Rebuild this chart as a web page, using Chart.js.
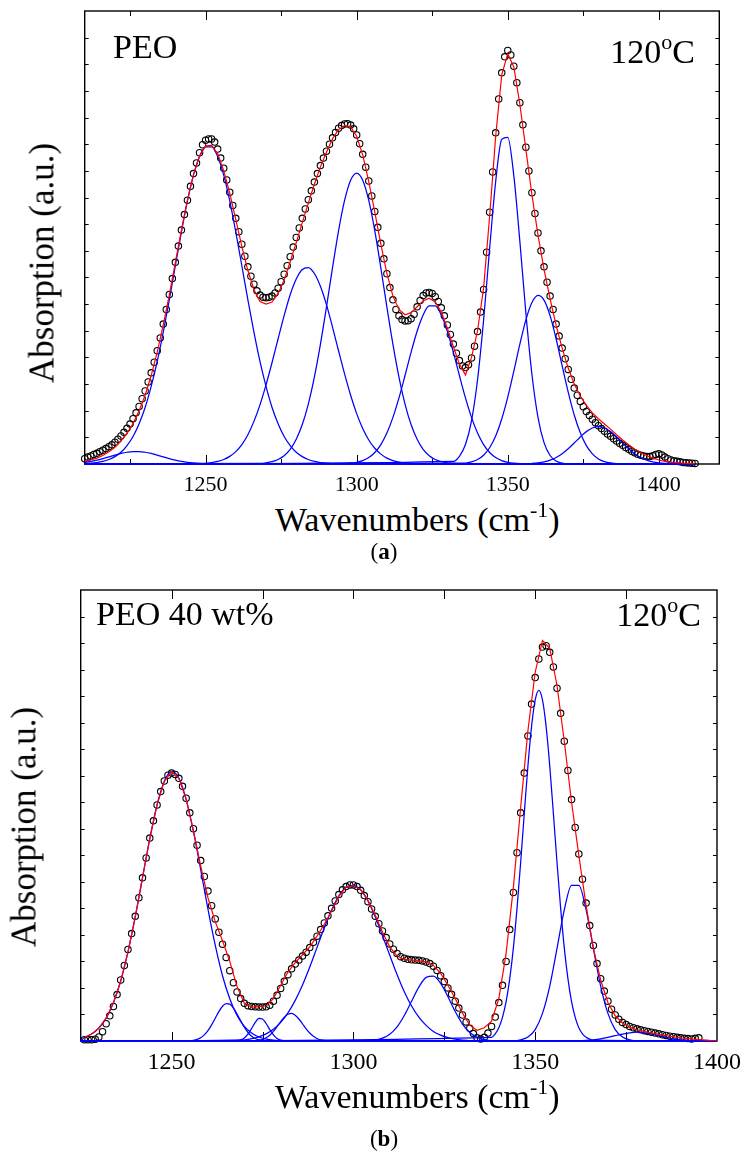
<!DOCTYPE html>
<html>
<head>
<meta charset="utf-8">
<script src="https://cdn.jsdelivr.net/npm/chart.js@4.4.1/dist/chart.umd.min.js"></script>
<style>
  body { margin: 0; background: #fff; width: 748px; height: 1151px; position: relative; overflow: hidden; font-family: "Liberation Serif", "Times New Roman", serif; color: #000; }
  canvas { position: absolute; left: 0; display: block; }
  .lbl { position: absolute; white-space: nowrap; line-height: 1; }
  .big { font-size: 34px; }
  .sup { font-size: 22px; position: relative; top: -14px; }
  .ylab { font-size: 35px; line-height: 35px; transform: translate(-50%, -50%) rotate(-90deg); }
  .cap { font-size: 23px; }
</style>
</head>
<body>
<canvas id="chartA" width="748" height="500" style="top:0"></canvas>
<canvas id="chartB" width="748" height="520" style="top:560px"></canvas>

<div class="lbl big" style="left:113px; top:30px">PEO</div>
<div class="lbl big" style="right:53px; top:35px">120<span class="sup">o</span>C</div>
<div class="lbl ylab" style="left:42px; top:263px">Absorption (a.u.)</div>
<div class="lbl big" style="left:275px; top:503px">Wavenumbers (cm<span class="sup">-1</span>)</div>
<div class="lbl cap" style="left:384px; top:540px; transform:translateX(-50%)">(<b>a</b>)</div>

<div class="lbl big" style="left:96px; top:597px">PEO 40 wt%</div>
<div class="lbl big" style="right:47px; top:598px">120<span class="sup">o</span>C</div>
<div class="lbl ylab" style="left:24px; top:827px">Absorption (a.u.)</div>
<div class="lbl big" style="left:275px; top:1080px">Wavenumbers (cm<span class="sup">-1</span>)</div>
<div class="lbl cap" style="left:384px; top:1127px; transform:translateX(-50%)">(<b>b</b>)</div>

<script>
// ---------- panel (a): PEO, 120 C ----------
const A_RANGE = [1210, 1420];
const A_TICKS = [1225, 1250, 1275, 1300, 1325, 1350, 1375, 1400];
const A_LABELS = [1250, 1300, 1350, 1400];
const A_DATA_START = 1210;   // circles every 1 cm-1
const A_FIT_START = 1210;    // red fit every 2 cm-1
const A_END = 1412;

const dataA = [
  .2,.26,.3,.36,.4,.46,.52,.58,.65,.72,.82,.93,1.05,1.19,1.34,1.5,1.7,1.92,2.16,2.45,
  2.74,3.08,3.42,3.82,4.25,4.73,5.25,5.8,6.36,6.96,7.57,8.18,8.78,9.36,9.9,10.42,10.9,11.3,11.68,11.98,
  12.15,12.2,12.2,12.08,11.82,11.48,11.1,10.66,10.2,9.7,9.22,8.72,8.25,7.8,7.4,7.05,6.75,6.5,6.34,6.26,
  6.24,6.26,6.3,6.42,6.6,6.84,7.12,7.44,7.78,8.14,8.5,8.86,9.22,9.57,9.92,10.25,10.58,10.9,11.2,11.48,
  11.74,12.0,12.24,12.44,12.6,12.7,12.76,12.77,12.72,12.58,12.35,12.02,11.62,11.14,10.62,10.06,9.48,8.88,8.28,7.7,
  7.14,6.62,6.16,5.8,5.56,5.42,5.37,5.38,5.45,5.62,5.9,6.14,6.32,6.42,6.44,6.4,6.28,6.1,5.86,5.56,
  5.22,4.86,4.5,4.16,3.88,3.68,3.62,3.72,3.98,4.42,4.97,5.7,6.55,7.95,9.45,10.96,12.43,13.7,14.68,15.28,
  15.52,15.35,14.93,14.31,13.56,12.73,11.89,11.0,10.18,9.4,8.67,8.0,7.4,6.82,6.3,5.8,5.25,4.8,4.35,3.95,
  3.55,3.18,2.85,2.58,2.35,2.15,1.97,1.82,1.68,1.55,1.44,1.33,1.23,1.13,1.04,.95,.86,.78,.7,.62,
  .55,.48,.42,.37,.33,.3,.28,.28,.31,.36,.38,.34,.26,.2,.15,.12,.1,.08,.06,.05,
  .04,.03,.02
];

const fitA = [
  .10,.15,.22,.32,.46,.63,.86,1.15,1.52,2.0,2.58,3.32,4.2,5.22,6.35,7.57,8.78,9.9,10.86,11.55,
  11.94,11.96,11.64,11.01,10.16,9.17,8.17,7.26,6.55,6.1,6.0,6.08,6.4,6.91,7.59,8.31,9.06,9.79,10.5,11.15,
  11.7,12.2,12.55,12.7,12.65,12.3,11.6,10.6,9.45,8.25,7.15,6.3,5.8,5.6,5.68,5.9,6.12,6.22,6.08,5.7,
  5.1,4.4,3.75,3.34,4.0,5.0,6.6,9.3,12.3,14.6,15.4,14.9,13.5,11.8,10.1,8.6,7.3,6.2,5.2,4.35,
  3.6,3.0,2.55,2.2,1.92,1.7,1.5,1.31,1.1,.9,.72,.55,.42,.31,.22,.15,.1,.07,.05,.03,
  .02,.01
];

// fitted bands, each sampled from its start wavenumber with its own step
const bandA1 = [.063,.099,.146,.204,.268,.335,.395,.441,.467,.467,.441,.395,.335,.268,.204,.146,.099,.063,.039,.022,.012,.006];
const bandA2 = [.017,.031,.056,.099,.168,.277,.44,.69,1.03,1.51,2.12,2.91,3.85,4.95,6.16,7.44,8.70,9.87,10.84,11.54,11.90,11.90,11.54,10.84,9.87,8.70,7.44,6.16,4.95,3.85,2.91,2.12,1.51,1.03,.69,.44,.277,.168,.099,.056,.031,.017,.009];
const bandA3 = [.027,.052,.095,.168,.286,.466,.73,1.10,1.60,2.22,2.97,3.81,4.70,5.57,6.35,6.94,7.30,7.37,7.15,6.67,5.98,5.14,4.25,3.38,2.58,1.89,1.33,.90,.59,.37,.22,.126,.070,.037,.019,.009];
const bandA4 = [.02,.042,.086,.168,.31,.55,.93,1.48,2.25,3.26,4.49,5.89,7.36,8.75,9.89,10.65,10.92,10.65,9.89,8.75,7.36,5.89,4.49,3.26,2.25,1.48,.93,.55,.31,.168,.086,.042,.02,.009];
const bandA5 = [.013,.03,.064,.128,.24,.43,.73,1.16,1.75,2.48,3.32,4.19,4.98,5.59,5.93,5.93,5.59,4.98,4.19,3.32,2.48,1.75,1.16,.73,.43,.24,.128,.064,.03,.013];
const bandA6 = [.10,.29,.73,1.62,3.16,5.40,8.09,10.60,12.18,12.26,10.82,8.36,5.66,3.36,1.75,.80,.32,.11,.03,.01];
const bandA7 = [.035,.079,.17,.33,.61,1.05,1.69,2.51,3.48,4.50,5.41,6.06,6.33,6.15,5.57,4.70,3.68,2.70,1.84,1.17,.69,.38,.19,.09,.04,.017];
const bandA8 = [.008,.019,.04,.079,.144,.245,.389,.575,.79,1.016,1.215,1.35,1.40,1.35,1.215,1.016,.79,.575,.389,.245,.144,.079,.04,.019,.008];
const A_BANDS = [bandA1, bandA2, bandA3, bandA4, bandA5, bandA6, bandA7, bandA8];
const A_BAND_START = [1210, 1210, 1250, 1268, 1296, 1332, 1336, 1356];
const A_BAND_STEP = [2, 2, 2, 2, 2, 2, 2, 2];

// ---------- panel (b): PEO 40 wt%, 120 C ----------
const B_RANGE = [1225, 1400];
const B_TICKS = [1250, 1275, 1300, 1325, 1350, 1375];
const B_LABELS = [1250, 1300, 1350, 1400];
const B_DATA_START = 1226;
const B_FIT_START = 1226;
const B_END = 1400;

const dataB = [
  .05,.05,.05,.07,.15,.35,.65,.95,1.3,1.75,2.3,2.85,3.45,4.05,4.7,5.4,6.15,6.9,7.65,8.3,
  8.9,9.4,9.8,10.02,10.1,10.05,9.9,9.6,9.15,8.6,8.0,7.38,6.8,6.2,5.65,5.1,4.6,4.1,3.65,3.15,
  2.65,2.2,1.85,1.6,1.42,1.33,1.3,1.29,1.28,1.28,1.29,1.35,1.5,1.72,1.98,2.25,2.5,2.72,2.9,3.05,
  3.2,3.35,3.52,3.72,3.95,4.2,4.45,4.72,5.0,5.28,5.52,5.7,5.82,5.88,5.88,5.82,5.68,5.48,5.25,4.98,
  4.7,4.42,4.15,3.9,3.66,3.46,3.3,3.18,3.12,3.08,3.06,3.05,3.04,3.02,2.98,2.92,2.82,2.66,2.46,2.24,
  2.0,1.76,1.5,1.24,.98,.72,.48,.28,.12,.08,.14,.3,.55,.9,1.45,2.1,3.0,4.2,5.6,7.1,
  8.6,10.1,11.5,12.7,13.7,14.4,14.85,14.9,14.65,14.1,13.3,12.35,11.3,10.2,9.1,8.05,7.05,6.1,5.2,4.35,
  3.6,2.92,2.35,1.88,1.5,1.2,.98,.82,.7,.62,.55,.5,.46,.42,.39,.36,.33,.3,.27,.24,
  .21,.18,.16,.14,.12,.1,.09,.08,.1,.12
];

const fitB = [
  .13,.26,.49,.86,1.44,2.26,3.36,4.68,6.16,7.63,8.90,9.79,10.15,9.91,9.11,7.93,6.6,5.4,4.5,3.78,
  3.0,2.05,1.42,1.28,1.3,1.32,1.6,2.1,2.6,2.95,3.25,3.55,3.95,4.4,4.9,5.45,5.8,5.85,5.7,5.3,
  4.75,4.1,3.55,3.2,3.08,3.05,3.02,2.98,2.85,2.55,2.1,1.6,1.05,.6,.4,.5,.75,1.6,3.3,5.8,
  8.8,11.7,13.9,15.1,14.8,13.4,11.3,9.0,7.0,5.1,3.5,2.3,1.45,.95,.68,.52,.42,.36,.3,.25,
  .2,.16,.12,.09,.06,.04,.02,.01
];

const bandB1 = [.13,.26,.49,.86,1.44,2.26,3.36,4.68,6.16,7.63,8.90,9.79,10.15,9.91,9.11,7.90,6.46,4.97,3.61,2.46,1.59,.96,.55,.30,.15,.072,.032,.014,.006];
const bandB2 = [.011,.027,.06,.123,.23,.39,.61,.86,1.11,1.31,1.41,1.39,1.24,1.02,.76,.52,.32,.18,.093,.044,.019,.007];
const bandB3 = [.003,.012,.042,.116,.26,.47,.70,.85,.83,.66,.43,.23,.097,.034,.01,.002];
const bandB4 = [.005,.013,.03,.064,.125,.22,.36,.54,.73,.90,1.01,1.04,.97,.83,.65,.46,.30,.18,.096,.047,.021,.009,.003];
const bandB5 = [.046,.087,.156,.27,.44,.70,1.06,1.53,2.11,2.79,3.53,4.27,4.94,5.47,5.80,5.87,5.70,5.28,4.68,3.97,3.23,2.51,1.86,1.32,.90,.59,.36,.22,.124,.068,.035,.017];
const bandB6 = [.012,.038,.106,.25,.53,.96,1.50,2.03,2.40,2.45,2.17,1.67,1.11,.64,.32,.14,.053,.017];
const bandB7 = [.14,.27,.50,.89,1.48,2.35,3.51,5.0,6.73,8.58,10.37,11.86,12.86,13.22,12.86,11.86,10.37,8.58,6.73,5.0,3.51,2.35,1.48,.89,.50,.27,.14,.07,.03];
const bandB8 = [.011,.045,.15,.43,1.04,2.07,3.49,4.94,5.87,5.87,4.94,3.49,2.07,1.04,.43,.15,.045,.011];
const bandB9 = [.004,.009,.022,.045,.082,.136,.20,.26,.31,.33,.31,.26,.20,.136,.082,.045,.022,.009,.004];
const B_BANDS = [bandB1, bandB2, bandB3, bandB4, bandB5, bandB6, bandB7, bandB8, bandB9];
const B_BAND_START = [1226, 1255, 1267, 1272, 1270, 1304, 1338, 1344, 1360];
const B_BAND_STEP = [2, 1, 1, 1, 2, 2, 1, 2, 2];

const Y_MAX = 17;
const Y_TICKS = [1,2,3,4,5,6,7,8,9,10,11,12,13,14,15,16];

// ---------- helpers ----------
function series(vals, start, step) {
  return vals.map((v, i) => ({ x: start + i * step, y: v }));
}
function bandSeries(vals, start, step, lo, hi) {
  const pts = series(vals, start, step);
  if (pts[0].x > lo) pts.unshift({ x: lo, y: 0 });
  if (pts[pts.length - 1].x < hi) pts.push({ x: hi, y: 0 });
  return pts;
}

const framePlugin = {
  id: 'frame',
  beforeDatasetsDraw(chart, args, opts) {
    const { ctx, chartArea: a, scales: { x, y } } = chart;
    ctx.save();
    ctx.strokeStyle = '#000';
    ctx.lineWidth = 1.4;
    ctx.strokeRect(a.left, a.top, a.right - a.left, a.bottom - a.top);
    ctx.lineWidth = 1;
    ctx.beginPath();
    opts.xTicks.forEach(v => {
      const px = Math.round(x.getPixelForValue(v)) + 0.5;
      const len = opts.labels.includes(v) ? opts.major : opts.minor;
      ctx.moveTo(px, a.bottom); ctx.lineTo(px, a.bottom - len);
      ctx.moveTo(px, a.top); ctx.lineTo(px, a.top + len);
    });
    opts.yTicks.forEach(v => {
      const py = Math.round(y.getPixelForValue(v)) + 0.5;
      ctx.moveTo(a.left, py); ctx.lineTo(a.left + 4, py);
      ctx.moveTo(a.right, py); ctx.lineTo(a.right - 4, py);
    });
    ctx.stroke();
    ctx.restore();
  }
};

function makeChart(id, p) {
  const lines = p.bands.map((b, i) => ({
    data: bandSeries(b, p.bandStart[i], p.bandStep[i], p.lo, p.hi),
    showLine: true,
    borderColor: '#0000ff',
    borderWidth: 1.25,
    pointRadius: 0,
    cubicInterpolationMode: 'monotone',
    clip: 4
  }));
  const datasets = [
    {
      data: series(p.fit, p.fitStart, 2),
      showLine: true,
      borderColor: '#ff0000',
      borderWidth: 1.2,
      pointRadius: 0,
      tension: 0,
      clip: 4
    },
    ...lines,
    {
      data: series(p.data, p.dataStart, 1),
      showLine: false,
      pointRadius: 3.2,
      pointBorderWidth: 1.1,
      pointBorderColor: '#000',
      pointBackgroundColor: 'rgba(0,0,0,0)',
      clip: 5
    }
  ];
  return new Chart(document.getElementById(id), {
    type: 'scatter',
    data: { datasets },
    plugins: [framePlugin],
    options: {
      responsive: false,
      animation: false,
      devicePixelRatio: 1,
      events: [],
      layout: { padding: p.padding },
      plugins: {
        legend: { display: false },
        tooltip: { enabled: false },
        frame: { xTicks: p.ticks, labels: p.labels, yTicks: Y_TICKS, major: p.major, minor: p.minor }
      },
      scales: {
        x: {
          type: 'linear',
          min: p.range[0],
          max: p.range[1],
          grid: { display: false, drawTicks: false },
          border: { display: false },
          afterBuildTicks: s => { s.ticks = p.labels.map(v => ({ value: v })); },
          afterFit: s => { s.height = p.xHeight; },
          ticks: {
            padding: p.tickPad,
            color: '#000',
            maxRotation: 0,
            autoSkip: false,
            callback: v => String(v),
            font: { family: 'Liberation Serif', size: p.tickSize }
          }
        },
        y: {
          display: false,
          min: 0,
          max: Y_MAX
        }
      }
    }
  });
}

makeChart('chartA', {
  range: A_RANGE, ticks: A_TICKS, labels: A_LABELS, lo: A_DATA_START, hi: A_END,
  data: dataA, dataStart: A_DATA_START, fit: fitA, fitStart: A_FIT_START,
  bands: A_BANDS, bandStart: A_BAND_START, bandStep: A_BAND_STEP,
  padding: { left: 84.7, right: 28.7, top: 11, bottom: 0 },
  xHeight: 36, tickPad: 8, tickSize: 22, major: 9, minor: 5
});

makeChart('chartB', {
  range: B_RANGE, ticks: B_TICKS, labels: B_LABELS, lo: B_RANGE[0], hi: B_RANGE[1],
  data: dataB, dataStart: B_DATA_START, fit: fitB, fitStart: B_FIT_START,
  bands: B_BANDS, bandStart: B_BAND_START, bandStep: B_BAND_STEP,
  padding: { left: 80.7, right: 26.3, top: 30, bottom: 0 },
  xHeight: 39, tickPad: 7, tickSize: 24, major: 9, minor: 9
});
</script>
</body>
</html>
